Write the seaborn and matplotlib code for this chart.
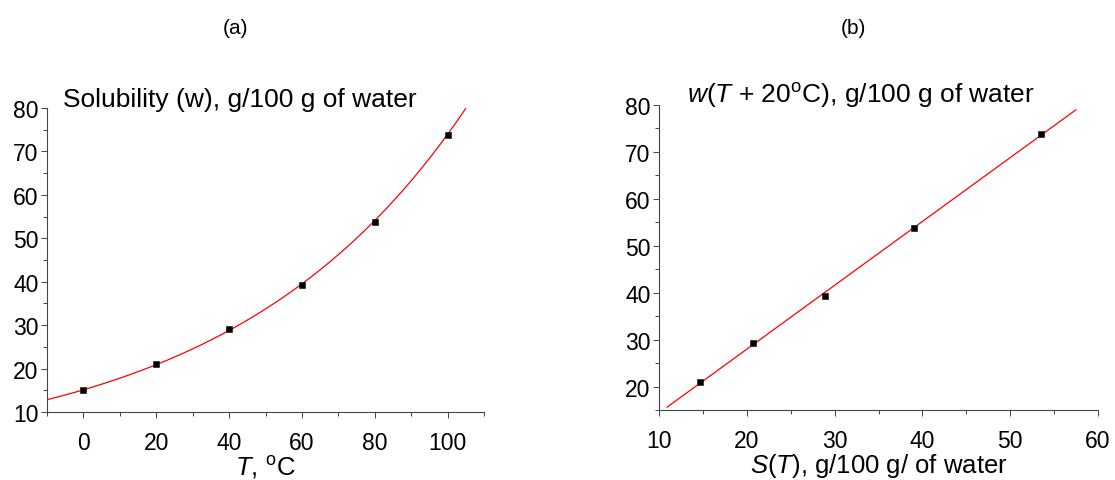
import numpy as np
import pandas as pd
import seaborn as sns
import matplotlib.pyplot as plt
from matplotlib.ticker import MultipleLocator

# measured solubility data (panel a)
temps = [0, 20, 40, 60, 80, 100]
solub = [15.0, 21.0, 29.2, 39.3, 53.8, 73.8]
# panel b: S(T) against w(T + 20 C)
s_now = [14.7, 20.7, 28.9, 39.0, 53.5]
w_next = [21.0, 29.2, 39.3, 53.8, 73.8]

sns.set_style('ticks')
plt.rcParams['font.family'] = ['Liberation Sans', 'DejaVu Sans']
plt.rcParams['mathtext.fontset'] = 'custom'
plt.rcParams['mathtext.rm'] = 'Liberation Sans'
plt.rcParams['mathtext.it'] = 'Liberation Sans:italic'
plt.rcParams['text.color'] = 'black'
plt.rcParams['xtick.labelcolor'] = 'black'
plt.rcParams['ytick.labelcolor'] = 'black'
plt.rcParams['axes.labelcolor'] = 'black'

df = pd.DataFrame({'T': temps, 'w': solub})
pairs = pd.DataFrame({'S': s_now, 'w20': w_next})

# exponential fit w = C + A*exp(kT), via the recurrence w(T+20) = a1*w(T) + b1
a1, b1 = np.polyfit(solub[:-1], solub[1:], 1)
k = np.log(a1) / 20
C = b1 / (1 - a1)
lnA = np.mean(np.log(df['w'] - C) - k * df['T'])
t_fit = np.linspace(-10, 105, 200)
curve = pd.DataFrame({'T': t_fit, 'w': C + np.exp(lnA + k * t_fit)})

# straight-line fit for panel b
a, b = np.polyfit(pairs['S'], pairs['w20'], 1)
s_fit = np.linspace(10.9, 57.5, 50)
line = pd.DataFrame({'S': s_fit, 'w20': a * s_fit + b})

fig = plt.figure(figsize=(11.15, 4.81), dpi=100)
ax1 = fig.add_axes([47/1115, 1 - 413/481, 437/1115, 304/481])
ax2 = fig.add_axes([659/1115, 1 - 411/481, 439/1115, 305/481])

sns.lineplot(data=curve, x='T', y='w', ax=ax1, color='red', lw=0.9)
sns.scatterplot(data=df, x='T', y='w', ax=ax1, marker='s', color='black', s=22, edgecolor='black', zorder=3)
sns.lineplot(data=line, x='S', y='w20', ax=ax2, color='red', lw=0.9)
sns.scatterplot(data=pairs, x='S', y='w20', ax=ax2, marker='s', color='black', s=22, edgecolor='black', zorder=3)

ax1.set_xlim(-10, 110)
ax1.set_ylim(10, 80)
ax1.set_xticks([0, 20, 40, 60, 80, 100])
ax1.xaxis.set_minor_locator(MultipleLocator(10))
ax1.yaxis.set_major_locator(MultipleLocator(10))
ax1.yaxis.set_minor_locator(MultipleLocator(5))

ax2.set_xlim(10, 60)
ax2.set_ylim(15, 80)
ax2.xaxis.set_major_locator(MultipleLocator(10))
ax2.xaxis.set_minor_locator(MultipleLocator(5))
ax2.set_yticks([20, 30, 40, 50, 60, 70, 80])
ax2.yaxis.set_minor_locator(MultipleLocator(5))

for ax in (ax1, ax2):
    sns.despine(ax=ax)
    for s in ('left', 'bottom'):
        ax.spines[s].set_color('#444444')
        ax.spines[s].set_linewidth(0.8)
    ax.tick_params(which='major', length=4, width=0.7, color='#444444', labelsize=16.5, pad=2,
                   labelcolor='black')
    ax.tick_params(which='minor', length=3, width=0.7, color='#444444')
    ax.tick_params(axis='x', which='major', pad=10)
    ax.set_ylabel('')
    ax.set_xlabel('')

ax1.set_xlabel(r'$\it{T}$, $^{\rm o}$C', fontsize=18.5, labelpad=-1, color='black')
ax2.set_xlabel(r'$\it{S}$($\it{T}$), g/100 g/ of water', fontsize=18.5, labelpad=-1, color='black')

fig.text(63/1115, 1 - 100/481, 'Solubility (w), g/100 g of water', fontsize=19, va='center')
fig.text(687/1115, 1 - 95/481, r'$\it{w}$($\it{T}$ + 20$^{\rm o}$C), g/100 g of water', fontsize=19, va='center')
fig.text(235/1115, 1 - 28/481, '(a)', fontsize=15, ha='center', va='center')
fig.text(853/1115, 1 - 28/481, '(b)', fontsize=15, ha='center', va='center')

fig.savefig('out.png', dpi=100)
